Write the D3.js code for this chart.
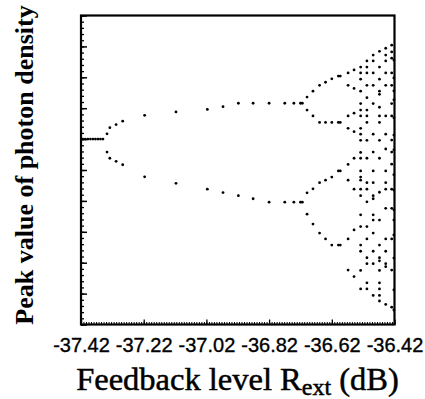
<!DOCTYPE html>
<html>
<head>
<meta charset="utf-8">
<script src="https://cdn.jsdelivr.net/npm/d3@7"></script>
<style>
  html, body { margin: 0; padding: 0; background: #fff; }
  svg { display: block; }
</style>
</head>
<body>
<svg id="chart" width="425" height="399"></svg>
<script>
// Bifurcation diagram: peak photon density versus external feedback level.

// Tick labels on the feedback axis (dB)
const xTickLabels = ["-37.42", "-37.22", "-37.02", "-36.82", "-36.62", "-36.42"];

// Single-period regime: feedback levels and the one peak value
const period1Levels = [-37.414, -37.406, -37.398, -37.390, -37.382, -37.374, -37.366, -37.358, -37.350];
const period1Peak = 6.0;

// Period-2 regime
const period2Levels = [-37.337, -37.328, -37.308, -37.287, -37.217, -37.117, -37.017, -36.967,
                       -36.918, -36.871, -36.820, -36.770, -36.741, -36.720, -36.714];
const period2Upper = [6.17, 6.37, 6.47, 6.58, 6.77, 6.88, 6.96, 7.05, 7.16, 7.16, 7.16, 7.16, 7.16, 7.16, 7.16];
const period2Lower = [5.58, 5.38, 5.28, 5.17, 4.78, 4.57, 4.38, 4.27, 4.17, 4.07, 3.96, 3.96, 3.96, 3.96, 3.96];

// Period-4 regime
const period4Levels = [-36.699, -36.680, -36.659, -36.640, -36.620, -36.599, -36.593];
const period4Peaks = [
  [7.36, 6.94, 4.26, 3.57],
  [7.55, 6.75, 4.39, 3.25],
  [7.74, 6.54, 4.59, 2.96],
  [7.84, 6.54, 4.67, 2.77],
  [7.95, 6.54, 4.77, 2.57],
  [8.04, 6.54, 4.97, 2.57],
  [8.04, 6.54, 4.97, 2.57]
];

// Period-8 onset and chaotic regime
const chaosLevels = [-36.568, -36.549, -36.528, -36.508, -36.488, -36.468, -36.448, -36.429, -36.422];
const chaosPeaks = [
  [8.14, 7.74, 6.75, 6.35, 5.18, 4.67, 2.77, 1.76],
  [8.24, 7.64, 6.84, 6.24, 5.38, 4.38, 3.06, 1.55],
  [8.33, 8.14, 7.94, 7.55, 7.15, 6.94, 6.75, 6.35, 6.16, 5.96, 5.57, 5.38, 4.97, 4.77, 4.67, 4.38, 4.17, 3.55, 3.17, 2.57, 2.37, 1.75, 1.15],
  [8.53, 8.33, 8.14, 7.74, 7.34, 6.94, 6.75, 6.54, 5.96, 5.38, 4.59, 4.38, 3.97, 3.17, 2.77, 2.16, 1.97, 1.35, 1.15],
  [8.72, 8.53, 8.14, 7.74, 7.15, 6.16, 5.58, 4.97, 4.59, 4.17, 4.07, 3.55, 3.38, 2.96, 2.37, 1.97, 0.94],
  [8.84, 8.33, 7.94, 7.55, 7.45, 7.03, 6.75, 6.54, 5.96, 5.38, 4.28, 3.38, 2.57, 2.16, 2.06, 1.75, 1.35, 1.15, 0.94, 0.76],
  [8.94, 8.72, 8.53, 8.14, 7.74, 6.75, 6.16, 5.68, 4.97, 4.59, 4.38, 3.76, 2.77, 2.37, 1.97, 1.87, 0.65],
  [9.04, 8.82, 8.62, 8.14, 7.74, 7.15, 6.75, 5.97, 5.58, 5.19, 4.38, 3.76, 2.77, 1.76, 0.56],
  [8.56, 7.98, 7.56, 7.27, 6.69, 6.13, 5.65, 4.85, 4.35, 3.71, 3.38, 2.90, 2.15, 1.12, 0.47]
];

// ---- layout ----
const svg = d3.select("#chart");
const plot = { left: 81, right: 394.5, top: 15.5, bottom: 324.5 };

const x = d3.scaleLinear().domain([-37.42, -36.42]).range([plot.left, plot.right]);
const y = d3.scaleLinear().domain([0, 10]).range([plot.bottom, plot.top]);

// Flatten all regimes into (level, peak) points
const points = [];
period1Levels.forEach(l => points.push([l, period1Peak]));
period2Levels.forEach((l, i) => { points.push([l, period2Upper[i]]); points.push([l, period2Lower[i]]); });
period4Levels.forEach((l, i) => period4Peaks[i].forEach(p => points.push([l, p])));
chaosLevels.forEach((l, i) => chaosPeaks[i].forEach(p => points.push([l, p])));

// Y axis: inward ticks, no labels
const yMinor = d3.range(0, 10.001, 0.2).map(v => +v.toFixed(2));
const yMajor = d3.range(0, 11, 1);
svg.append("g")
  .attr("transform", `translate(${plot.left},0)`)
  .call(d3.axisRight(y).tickValues(yMinor).tickSize(3).tickFormat(""))
  .call(g => g.select(".domain").remove())
  .selectAll("line").attr("stroke", "#000").attr("stroke-width", 1.3);
svg.append("g")
  .attr("transform", `translate(${plot.left},0)`)
  .call(d3.axisRight(y).tickValues(yMajor).tickSize(6).tickFormat(""))
  .call(g => g.select(".domain").remove())
  .selectAll("line").attr("stroke", "#000").attr("stroke-width", 1.5);

// X axis: dense inward minor ticks, major ticks at labelled levels
const xMajor = xTickLabels.map(Number);
const xMinor = d3.range(0, 126).map(i => -37.42 + i * 0.008);
svg.append("g")
  .attr("transform", `translate(0,${plot.bottom})`)
  .call(d3.axisTop(x).tickValues(xMinor).tickSize(2.5).tickFormat(""))
  .call(g => g.select(".domain").remove())
  .selectAll("line").attr("stroke", "#000").attr("stroke-width", 1);
const xAxisMajor = svg.append("g")
  .attr("transform", `translate(0,${plot.bottom})`)
  .call(d3.axisBottom(x).tickValues(xMajor).tickSize(0).tickPadding(13)
        .tickFormat((d, i) => xTickLabels[i]));
xAxisMajor.select(".domain").remove();
xAxisMajor.selectAll("text")
  .attr("font-family", "'Liberation Sans', Arial, sans-serif")
  .attr("font-size", 20)
  .attr("fill", "#000")
  .attr("stroke", "#000").attr("stroke-width", 0.35)
  .attr("dy", "0.71em");
xAxisMajor.selectAll(".tick").append("line")
  .attr("y1", 0).attr("y2", -5).attr("stroke", "#000").attr("stroke-width", 1.3);

// Frame
svg.append("rect")
  .attr("x", plot.left).attr("y", plot.top)
  .attr("width", plot.right - plot.left).attr("height", plot.bottom - plot.top)
  .attr("fill", "none").attr("stroke", "#000").attr("stroke-width", 2.2);

// Points
svg.append("g")
  .selectAll("circle")
  .data(points)
  .join("circle")
  .attr("cx", d => x(d[0]))
  .attr("cy", d => y(d[1]))
  .attr("r", 1.4)
  .attr("fill", "#000");

// Axis titles
svg.append("text")
  .attr("transform", "translate(33,165) rotate(-90)")
  .attr("text-anchor", "middle")
  .attr("font-family", "'Liberation Serif', 'Times New Roman', serif")
  .attr("font-size", 26)
  .attr("font-weight", "bold")
  .attr("fill", "#000")
  .text("Peak value of photon density");

const xt = svg.append("text")
  .attr("x", 237.5).attr("y", 390)
  .attr("text-anchor", "middle")
  .attr("font-family", "'Liberation Serif', 'Times New Roman', serif")
  .attr("font-size", 32.5)
  .attr("fill", "#000")
  .attr("stroke", "#000").attr("stroke-width", 0.5);
xt.append("tspan").text("Feedback level R");
xt.append("tspan").attr("font-size", 24).attr("dy", 5).text("ext");
xt.append("tspan").attr("dy", -5).text(" (dB)");
</script>
</body>
</html>
